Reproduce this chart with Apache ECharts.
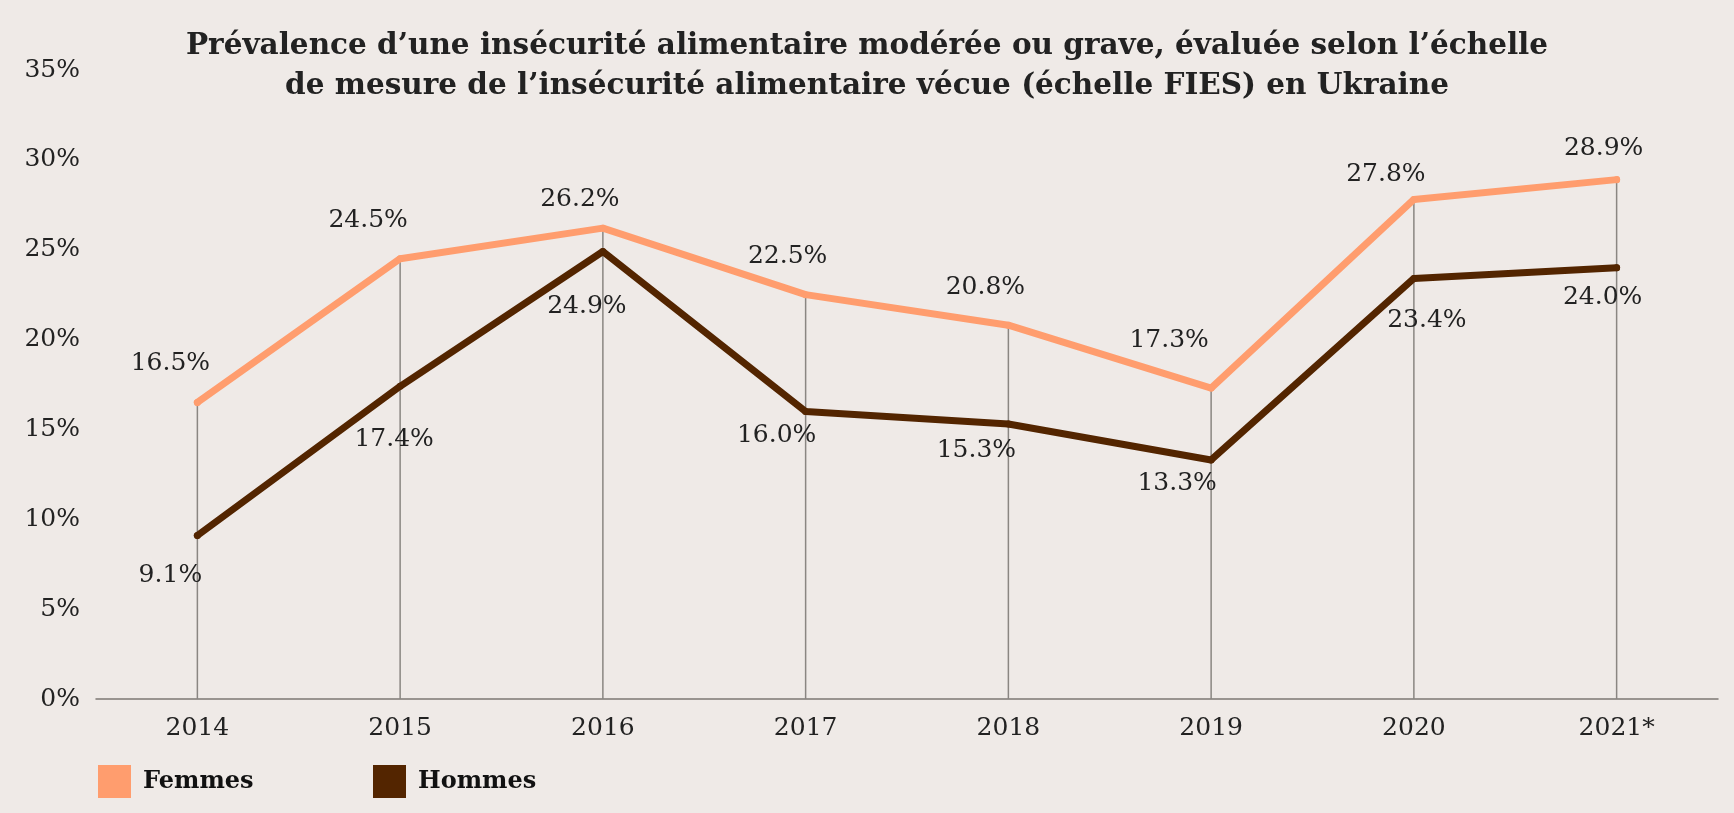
<!DOCTYPE html>
<html>
<head>
<meta charset="utf-8">
<script src="https://cdn.jsdelivr.net/npm/echarts@6/dist/echarts.min.js"></script>
<style>
html,body{margin:0;padding:0;background:#EFEAE7;}
#chart{width:1734px;height:813px;}
</style>
</head>
<body>
<div id="chart"></div>
<script>
const titleText = "Prévalence d’une insécurité alimentaire modérée ou grave, évaluée selon l’échelle\nde mesure de l’insécurité alimentaire vécue (échelle FIES) en Ukraine";
const years = ["2014", "2015", "2016", "2017", "2018", "2019", "2020", "2021*"];
const femmes = [16.5, 24.5, 26.2, 22.5, 20.8, 17.3, 27.8, 28.9];
const hommes = [9.1, 17.4, 24.9, 16.0, 15.3, 13.3, 23.4, 24.0];
const seriesNames = ["Femmes", "Hommes"];

// label placement (style, not data)
const femLabelOffsets = [[-27,-39],[-32,-38],[-23,-29],[-18,-38],[-23,-38],[-42,-48],[-28,-25],[-13,-31]];
const homLabelOffsets = [[-27,40],[-6,53],[-16,55],[-29,24],[-32,26],[-34,24],[13,42],[-14,30]];

const numFont = "DejaVu Serif";
const textColor = "#222222";
const femColor = "#FF9D6E";
const homColor = "#532500";

function withLabels(values, offsets) {
  return values.map((v, i) => ({
    value: v,
    label: { offset: offsets[i] }
  }));
}

const legendText = { fontFamily: 'DejaVu Serif', fontWeight: 'bold', fontSize: 24, color: '#111111', padding: [0,0,0,7] };

const chart = echarts.init(document.getElementById('chart'));
chart.setOption({
  backgroundColor: '#EFEAE7',
  animation: false,
  title: {
    text: titleText,
    left: 'center',
    top: 21,
    textStyle: {
      fontFamily: 'DejaVu Serif',
      fontWeight: 'bold',
      fontSize: 29.5,
      lineHeight: 40,
      color: '#222222'
    }
  },
  legend: [
    {
      data: [{ name: seriesNames[0], icon: 'rect' }],
      left: 93, top: 760,
      itemWidth: 33, itemHeight: 33,
      textStyle: legendText
    },
    {
      data: [{ name: seriesNames[1], icon: 'rect' }],
      left: 368, top: 760,
      itemWidth: 33, itemHeight: 33,
      textStyle: legendText
    }
  ],
  grid: { left: 96, right: 16, top: 70, bottom: 114, containLabel: false },
  xAxis: {
    type: 'category',
    data: years,
    boundaryGap: true,
    axisLine: { lineStyle: { color: '#7d7874', width: 1.5 } },
    axisTick: { show: false },
    axisLabel: { fontFamily: numFont, fontSize: 25, color: textColor, margin: 17 }
  },
  yAxis: {
    type: 'value',
    min: 0, max: 35, interval: 5,
    axisLine: { show: false },
    axisTick: { show: false },
    splitLine: { show: false },
    axisLabel: { formatter: '{value}%', fontFamily: numFont, fontSize: 25, color: textColor, margin: 16 }
  },
  series: [
    {
      name: 'drop',
      type: 'bar',
      data: femmes,
      barWidth: 1.5,
      itemStyle: { color: '#8a8682' },
      silent: true,
      z: 1
    },
    {
      name: seriesNames[0],
      type: 'line',
      data: withLabels(femmes, femLabelOffsets),
      color: femColor,
      symbol: 'circle',
      symbolSize: 7,
      lineStyle: { width: 7, color: femColor, cap: 'round', join: 'round' },
      itemStyle: { color: femColor },
      label: {
        show: true, position: 'inside',
        formatter: p => p.value.toFixed(1) + '%',
        fontFamily: numFont, fontSize: 25, color: textColor
      },
      z: 3
    },
    {
      name: seriesNames[1],
      type: 'line',
      data: withLabels(hommes, homLabelOffsets),
      color: homColor,
      symbol: 'circle',
      symbolSize: 7,
      lineStyle: { width: 7, color: homColor, cap: 'round', join: 'round' },
      itemStyle: { color: homColor },
      label: {
        show: true, position: 'inside',
        formatter: p => p.value.toFixed(1) + '%',
        fontFamily: numFont, fontSize: 25, color: textColor
      },
      z: 3
    }
  ]
});
</script>
</body>
</html>
